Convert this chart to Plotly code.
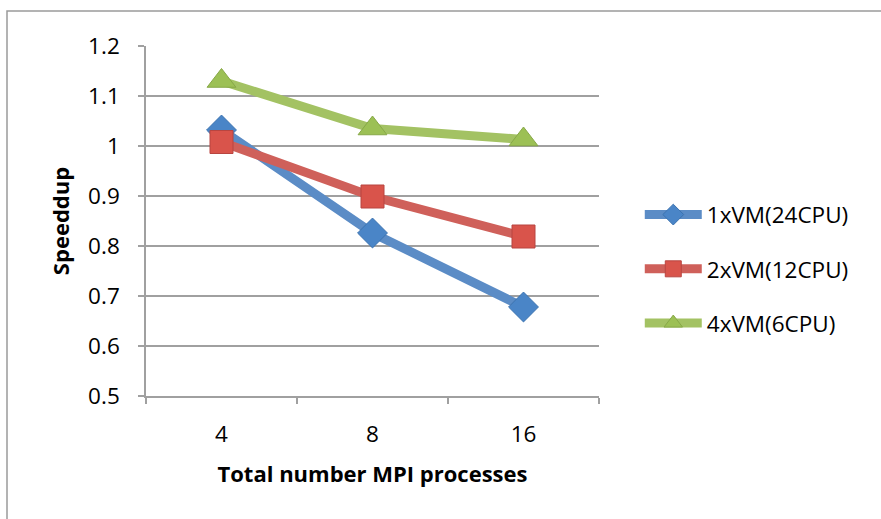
import plotly.graph_objects as go

categories = ["4", "8", "16"]
series_names = ["1xVM(24CPU)", "2xVM(12CPU)", "4xVM(6CPU)"]
vm1_speedup = [1.032, 0.826, 0.678]
vm2_speedup = [1.008, 0.899, 0.819]
vm4_speedup = [1.130, 1.035, 1.013]
y_ticks = [0.5, 0.6, 0.7, 0.8, 0.9, 1.0, 1.1, 1.2]
y_tick_labels = ["0.5", "0.6", "0.7", "0.8", "0.9", "1", "1.1", "1.2"]

FONT = "'Open Sans', Lato, sans-serif"
styles = [
    dict(line="#5B8CC6", marker="#4A85C7", mline="#3C73B0", symbol="diamond", size=23),
    dict(line="#CF605A", marker="#D9544B", mline="#B84540", symbol="square", size=23),
    dict(line="#A3C263", marker="#9CC055", mline="#87A847", symbol="triangle-up", size=25),
]

fig = go.Figure()
for i, (name, vals) in enumerate(zip(series_names, [vm1_speedup, vm2_speedup, vm4_speedup])):
    s = styles[i]
    fig.add_trace(go.Scatter(
        x=categories, y=vals, name=name, mode="lines+markers",
        legendgroup=name,
        line=dict(color=s["line"], width=9),
        marker=dict(symbol=s["symbol"], size=s["size"], color=s["marker"],
                    line=dict(color=s["mline"], width=1)),
        cliponaxis=False,
    ))

fig.update_layout(
    width=881, height=519,
    margin=dict(l=146, r=282, t=46, b=123),
    paper_bgcolor="white", plot_bgcolor="white",
    font=dict(family=FONT, size=22, color="black"),
    showlegend=True,
    legend=dict(x=1.09, y=0.363, xanchor="left", yanchor="middle",
                traceorder="grouped", tracegroupgap=22,
                font=dict(family=FONT, size=22.5, color="black"),
                itemwidth=57, bgcolor="rgba(0,0,0,0)"),
    xaxis=dict(type="category", range=[-0.5, 2.5], tickson="boundaries", ticks="outside",
               ticklen=6, tickcolor="#A0A0A0", tickwidth=1.5,
               showline=True, linecolor="#A0A0A0", linewidth=1.5,
               showgrid=False, zeroline=False,
               tickfont=dict(family=FONT, size=22.5),
               ticklabelstandoff=17,
               title=dict(text="<b>Total number MPI processes</b>",
                          font=dict(family=FONT, size=22), standoff=19)),
    yaxis=dict(range=[0.5, 1.2], tickvals=y_ticks, ticktext=y_tick_labels,
               ticks="outside", ticklen=6, tickcolor="#A0A0A0", tickwidth=1.5,
               showline=True, linecolor="#A0A0A0", linewidth=1.5,
               showgrid=True, gridcolor="#A0A0A0", gridwidth=1.5,
               zeroline=False,
               tickfont=dict(family=FONT, size=22.5),
               ticklabelstandoff=14,
               title=dict(text="<b>Speeddup</b>",
                          font=dict(family=FONT, size=22), standoff=12)),
    shapes=[dict(type="rect", xref="paper", yref="paper",
                 x0=(7 - 146) / 453, x1=2.0, y0=-1.0, y1=(396 - 11) / 350,
                 line=dict(color="#9A9A9A", width=1.5), layer="below")],
)

fig.write_html("out.html", config={"displayModeBar": False},
               post_script="document.body.style.margin='0';")
